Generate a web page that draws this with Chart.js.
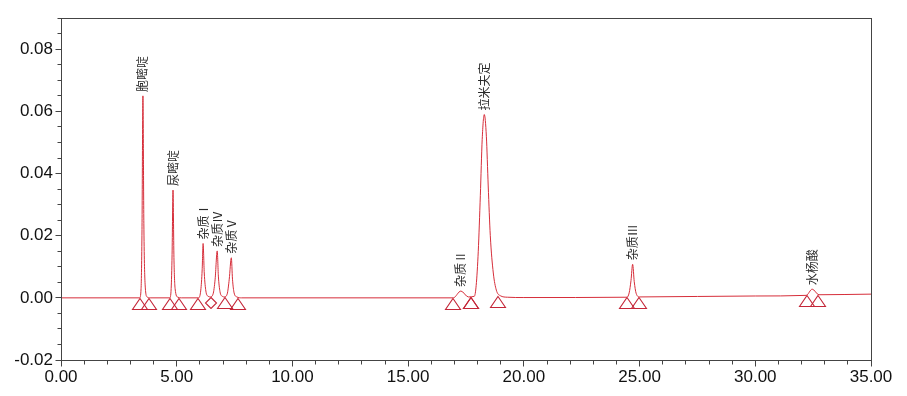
<!DOCTYPE html>
<html>
<head>
<meta charset="utf-8">
<title>色谱图</title>
<script src="https://cdn.jsdelivr.net/npm/chart.js@4/dist/chart.umd.min.js"></script>
<style>
	html, body { margin: 0; padding: 0; background: #fff; }
	#chromatogram { display: block; }
</style>
</head>
<body>
<canvas id="chromatogram" width="907" height="396"></canvas>
<script>
'use strict';

// trace: time (min) and signal (AU)
const traceTime = [
	0.00, 3.40, 3.46, 3.50, 3.54, 3.58, 3.63, 3.72, 3.85,
	4.70, 4.76, 4.80, 4.84, 4.88, 4.93, 5.05, 5.20,
	5.95, 6.04, 6.10, 6.14, 6.19, 6.26, 6.36, 6.45,
	6.57, 6.66, 6.75, 6.80, 6.87, 6.97, 7.06,
	7.18, 7.27, 7.36, 7.41, 7.48, 7.60, 7.80,
	16.95, 17.28, 17.60,
	17.86, 17.94, 18.03, 18.12, 18.20, 18.29, 18.38, 18.46, 18.55, 18.68, 18.81, 18.98, 19.30,
	20.00, 24.45, 24.55, 24.63, 24.70, 24.77, 24.85, 25.00,
	30.00, 32.20, 32.46, 32.75, 35.00,
];
const traceSignal = [
	0, 0, 0.003, 0.022, 0.065, 0.024, 0.005, 0.0003, 0,
	0, 0.003, 0.014, 0.0347, 0.013, 0.003, 0.0002, 0,
	0, 0.0025, 0.009, 0.0175, 0.008, 0.0022, 0.0005, 0.0003,
	0.0012, 0.006, 0.0151, 0.007, 0.002, 0.0005, 0.0003,
	0.0012, 0.006, 0.0129, 0.006, 0.0016, 0.0003, 0,
	0, 0.0022, 0.0003,
	0.0005, 0.004, 0.015, 0.033, 0.051, 0.059, 0.052, 0.036, 0.020, 0.008, 0.0025, 0.0007, 0.0002,
	0.0001, 0.0002, 0.0016, 0.0056, 0.0108, 0.0052, 0.0015, 0.0003,
	0.0006, 0.0008, 0.0028, 0.0010, 0.0012,
];

// named peaks (retention times match trace apexes)
const peakNames = ['胞嘧啶', '尿嘧啶', '杂质Ⅰ', '杂质Ⅳ', '杂质Ⅴ', '杂质Ⅱ', '拉米夫定', '杂质Ⅲ', '水杨酸'];
const peakTimes = [3.54, 4.84, 6.14, 6.75, 7.36, 17.28, 18.29, 24.70, 32.46];

// integration marks (peak start / end)
const triangleTimes = [3.43, 3.79, 4.70, 5.09, 5.92, 7.07, 7.65, 16.95, 17.72, 17.72, 18.90, 24.47, 24.99, 32.22, 32.72];
const triangleLevels = [0, 0, 0, 0, 0, 0.0002, 0.0001, 0, 0.0003, 0.0003, 0.0005, 0.0002, 0.0003, 0.0008, 0.0010];
const diamondTimes = [6.49];
const diamondLevels = [0.0003];

// axes
const xTickValues = [0, 5, 10, 15, 20, 25, 30, 35];
const yTickValues = [-0.02, 0, 0.02, 0.04, 0.06, 0.08];

const RED = 'rgb(214, 46, 58)';
const MARK = 'rgb(196, 38, 56)';
const AXIS = '#444';

Chart.defaults.font.family = '"Liberation Sans", Arial, sans-serif';

function toPoints(xs, ys) {
	return xs.map((x, i) => ({ x: x, y: ys[i] }));
}

// triangle whose apex sits on the point, body hanging below it
function makeTriangle() {
	const c = document.createElement('canvas');
	c.width = 18;
	c.height = 24;
	const g = c.getContext('2d');
	g.strokeStyle = MARK;
	g.lineWidth = 1.1;
	g.beginPath();
	g.moveTo(9, 12.5);
	g.lineTo(16.5, 23.5);
	g.lineTo(1.5, 23.5);
	g.closePath();
	g.stroke();
	return c;
}

function makeDiamond() {
	const c = document.createElement('canvas');
	c.width = 16;
	c.height = 24;
	const g = c.getContext('2d');
	g.strokeStyle = MARK;
	g.lineWidth = 1.1;
	g.beginPath();
	g.moveTo(8, 12.5);
	g.lineTo(13.5, 18);
	g.lineTo(8, 23.5);
	g.lineTo(2.5, 18);
	g.closePath();
	g.stroke();
	return c;
}

function buildDatasets() {
	return [
		{
			data: toPoints(traceTime, traceSignal),
			borderColor: RED,
			borderWidth: 1,
			pointRadius: 0,
			cubicInterpolationMode: 'monotone',
		},
		{
			data: toPoints(triangleTimes, triangleLevels),
			showLine: false,
			pointStyle: makeTriangle(),
			pointRadius: 3,
		},
		{
			data: toPoints(diamondTimes, diamondLevels),
			showLine: false,
			pointStyle: makeDiamond(),
			pointRadius: 3,
		},
	];
}

function getX() {
	return {
		type: 'linear',
		min: 0,
		max: 35,
		grid: { display: false, drawTicks: false, tickLength: 0 },
		border: { display: false },
		afterBuildTicks: (scale) => {
			scale.ticks = xTickValues.map((v) => ({ value: v }));
		},
		afterFit: (scale) => {
			scale.height = 36;
		},
		ticks: {
			color: '#111',
			padding: 7,
			maxRotation: 0,
			font: { size: 17 },
			callback: (v) => Number(v).toFixed(2),
		},
	};
}

function getY() {
	return {
		type: 'linear',
		min: -0.02,
		max: 0.09,
		grid: { display: false, drawTicks: false, tickLength: 0 },
		border: { display: false },
		afterBuildTicks: (scale) => {
			scale.ticks = yTickValues.map((v) => ({ value: v }));
		},
		afterFit: (scale) => {
			scale.width = 61;
		},
		ticks: {
			color: '#111',
			padding: 8,
			font: { size: 17 },
			callback: (v) => Number(v).toFixed(2),
		},
	};
}

// keep the marker images sharp
const crispPlugin = {
	id: 'crisp',
	beforeDatasetsDraw(chart) {
		chart.ctx.imageSmoothingEnabled = false;
	},
};

// box frame plus major/minor tick marks
const framePlugin = {
	id: 'frame',
	afterDraw(chart) {
		const ctx = chart.ctx;
		const a = chart.chartArea;
		const x = chart.scales.x;
		const y = chart.scales.y;
		const left = Math.floor(a.left) + 0.5;
		const bottom = Math.floor(a.bottom) + 0.5;
		ctx.save();
		ctx.strokeStyle = AXIS;
		ctx.lineWidth = 1;
		ctx.strokeRect(left, Math.floor(a.top) + 0.5, Math.floor(a.right) - Math.floor(a.left), Math.floor(a.bottom) - Math.floor(a.top));
		ctx.beginPath();
		for (let i = 0; i <= 35; i++) {
			const px = Math.floor(x.getPixelForValue(i)) + 0.5;
			const len = i % 5 === 0 ? 6 : 4;
			ctx.moveTo(px, bottom);
			ctx.lineTo(px, bottom + len);
		}
		for (let k = -4; k <= 18; k++) {
			const py = Math.floor(y.getPixelForValue(k * 0.005)) + 0.5;
			const len = k % 4 === 0 ? 6 : 4;
			ctx.moveTo(left, py);
			ctx.lineTo(left - len, py);
		}
		ctx.stroke();
		ctx.restore();
	},
};

// vertical peak names above each apex
const peakLabelPlugin = {
	id: 'peakLabels',
	afterDatasetsDraw(chart) {
		const ctx = chart.ctx;
		const x = chart.scales.x;
		const y = chart.scales.y;
		ctx.save();
		ctx.fillStyle = '#2a2a2a';
		ctx.font = '12px "Noto Sans CJK SC"';
		ctx.textAlign = 'left';
		ctx.textBaseline = 'middle';
		peakNames.forEach((name, i) => {
			const idx = traceTime.indexOf(peakTimes[i]);
			const px = x.getPixelForValue(peakTimes[i]);
			const py = y.getPixelForValue(traceSignal[idx]);
			ctx.save();
			ctx.translate(px, py - 4);
			ctx.rotate(-Math.PI / 2);
			ctx.fillText(name, 0, 0);
			ctx.restore();
		});
		ctx.restore();
	},
};

function makeChromatogram() {
	const ctx = document.querySelector('#chromatogram').getContext('2d');
	const configuration = {
		type: 'line',
		data: {
			datasets: buildDatasets(),
		},
		options: {
			responsive: false,
			animation: false,
			devicePixelRatio: 1,
			layout: {
				padding: { top: 17, right: 36, left: 0, bottom: 0 },
			},
			plugins: {
				legend: { display: false },
				tooltip: { enabled: false },
			},
			scales: {
				x: getX(),
				y: getY(),
			},
		},
		plugins: [crispPlugin, framePlugin, peakLabelPlugin],
	};
	return new Chart(ctx, configuration);
}

makeChromatogram();
</script>
</body>
</html>
